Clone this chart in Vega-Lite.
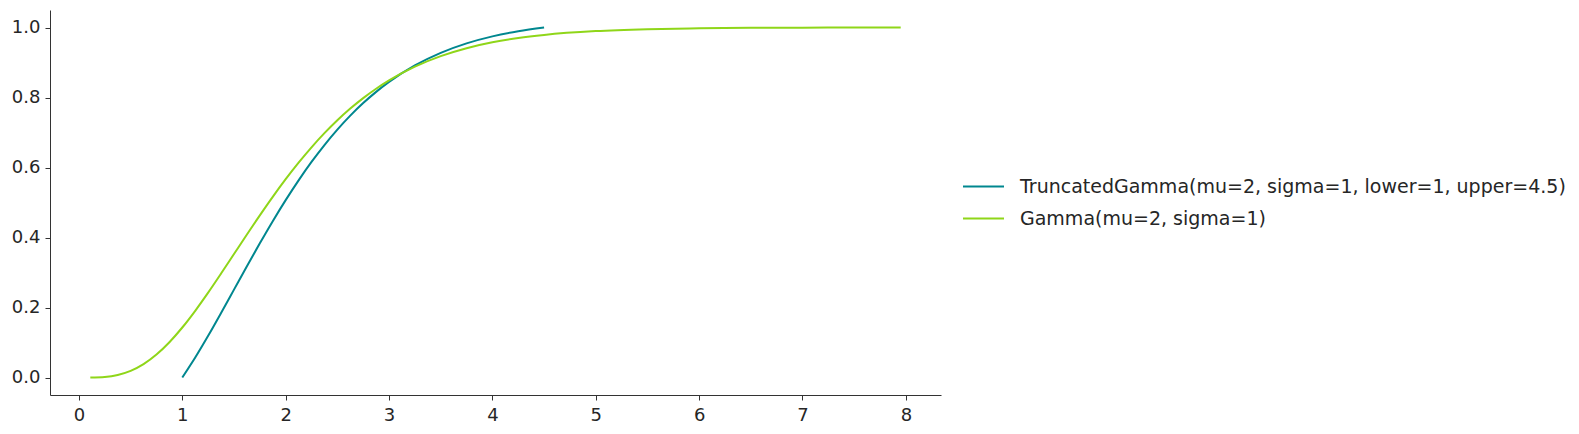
{
  "$schema": "https://vega.github.io/schema/vega-lite/v6.json",
  "width": 891,
  "height": 385,
  "autosize": {"type": "none"},
  "padding": {"left": 50, "top": 10, "right": 638, "bottom": 39},
  "background": "white",
  "config": {
    "font": "DejaVu Sans",
    "view": {"stroke": null},
    "axis": {
      "grid": false,
      "domainColor": "#333333",
      "domainWidth": 1,
      "tickColor": "#333333",
      "tickSize": 5,
      "tickWidth": 1,
      "labelColor": "#262626",
      "labelFontSize": 18,
      "labelFont": "DejaVu Sans",
      "title": null
    }
  },
  "data": {
    "values": [
      {"dist": "TruncatedGamma(mu=2, sigma=1, lower=1, upper=4.5)", "x": 1.0, "y": 0.0},
      {"dist": "TruncatedGamma(mu=2, sigma=1, lower=1, upper=4.5)", "x": 1.125, "y": 0.05705},
      {"dist": "TruncatedGamma(mu=2, sigma=1, lower=1, upper=4.5)", "x": 1.25, "y": 0.11909},
      {"dist": "TruncatedGamma(mu=2, sigma=1, lower=1, upper=4.5)", "x": 1.375, "y": 0.18433},
      {"dist": "TruncatedGamma(mu=2, sigma=1, lower=1, upper=4.5)", "x": 1.5, "y": 0.2511},
      {"dist": "TruncatedGamma(mu=2, sigma=1, lower=1, upper=4.5)", "x": 1.625, "y": 0.31788},
      {"dist": "TruncatedGamma(mu=2, sigma=1, lower=1, upper=4.5)", "x": 1.75, "y": 0.38341},
      {"dist": "TruncatedGamma(mu=2, sigma=1, lower=1, upper=4.5)", "x": 1.875, "y": 0.44666},
      {"dist": "TruncatedGamma(mu=2, sigma=1, lower=1, upper=4.5)", "x": 2.0, "y": 0.50683},
      {"dist": "TruncatedGamma(mu=2, sigma=1, lower=1, upper=4.5)", "x": 2.125, "y": 0.56336},
      {"dist": "TruncatedGamma(mu=2, sigma=1, lower=1, upper=4.5)", "x": 2.25, "y": 0.6159},
      {"dist": "TruncatedGamma(mu=2, sigma=1, lower=1, upper=4.5)", "x": 2.375, "y": 0.66424},
      {"dist": "TruncatedGamma(mu=2, sigma=1, lower=1, upper=4.5)", "x": 2.5, "y": 0.70834},
      {"dist": "TruncatedGamma(mu=2, sigma=1, lower=1, upper=4.5)", "x": 2.625, "y": 0.74824},
      {"dist": "TruncatedGamma(mu=2, sigma=1, lower=1, upper=4.5)", "x": 2.75, "y": 0.7841},
      {"dist": "TruncatedGamma(mu=2, sigma=1, lower=1, upper=4.5)", "x": 2.875, "y": 0.8161},
      {"dist": "TruncatedGamma(mu=2, sigma=1, lower=1, upper=4.5)", "x": 3.0, "y": 0.84451},
      {"dist": "TruncatedGamma(mu=2, sigma=1, lower=1, upper=4.5)", "x": 3.25, "y": 0.89158},
      {"dist": "TruncatedGamma(mu=2, sigma=1, lower=1, upper=4.5)", "x": 3.5, "y": 0.92758},
      {"dist": "TruncatedGamma(mu=2, sigma=1, lower=1, upper=4.5)", "x": 3.75, "y": 0.95464},
      {"dist": "TruncatedGamma(mu=2, sigma=1, lower=1, upper=4.5)", "x": 4.0, "y": 0.97469},
      {"dist": "TruncatedGamma(mu=2, sigma=1, lower=1, upper=4.5)", "x": 4.25, "y": 0.98937},
      {"dist": "TruncatedGamma(mu=2, sigma=1, lower=1, upper=4.5)", "x": 4.5, "y": 1.0},
      {"dist": "Gamma(mu=2, sigma=1)", "x": 0.11, "y": 0.0001},
      {"dist": "Gamma(mu=2, sigma=1)", "x": 0.25, "y": 0.00175},
      {"dist": "Gamma(mu=2, sigma=1)", "x": 0.375, "y": 0.00729},
      {"dist": "Gamma(mu=2, sigma=1)", "x": 0.5, "y": 0.01899},
      {"dist": "Gamma(mu=2, sigma=1)", "x": 0.625, "y": 0.03827},
      {"dist": "Gamma(mu=2, sigma=1)", "x": 0.75, "y": 0.06564},
      {"dist": "Gamma(mu=2, sigma=1)", "x": 0.875, "y": 0.10081},
      {"dist": "Gamma(mu=2, sigma=1)", "x": 1.0, "y": 0.14288},
      {"dist": "Gamma(mu=2, sigma=1)", "x": 1.125, "y": 0.19057},
      {"dist": "Gamma(mu=2, sigma=1)", "x": 1.25, "y": 0.24242},
      {"dist": "Gamma(mu=2, sigma=1)", "x": 1.375, "y": 0.29696},
      {"dist": "Gamma(mu=2, sigma=1)", "x": 1.5, "y": 0.35277},
      {"dist": "Gamma(mu=2, sigma=1)", "x": 1.625, "y": 0.4086},
      {"dist": "Gamma(mu=2, sigma=1)", "x": 1.75, "y": 0.46337},
      {"dist": "Gamma(mu=2, sigma=1)", "x": 1.875, "y": 0.51623},
      {"dist": "Gamma(mu=2, sigma=1)", "x": 2.0, "y": 0.56653},
      {"dist": "Gamma(mu=2, sigma=1)", "x": 2.125, "y": 0.61379},
      {"dist": "Gamma(mu=2, sigma=1)", "x": 2.25, "y": 0.6577},
      {"dist": "Gamma(mu=2, sigma=1)", "x": 2.375, "y": 0.69811},
      {"dist": "Gamma(mu=2, sigma=1)", "x": 2.5, "y": 0.73497},
      {"dist": "Gamma(mu=2, sigma=1)", "x": 2.625, "y": 0.76833},
      {"dist": "Gamma(mu=2, sigma=1)", "x": 2.75, "y": 0.7983},
      {"dist": "Gamma(mu=2, sigma=1)", "x": 2.875, "y": 0.82505},
      {"dist": "Gamma(mu=2, sigma=1)", "x": 3.0, "y": 0.8488},
      {"dist": "Gamma(mu=2, sigma=1)", "x": 3.25, "y": 0.88815},
      {"dist": "Gamma(mu=2, sigma=1)", "x": 3.5, "y": 0.91824},
      {"dist": "Gamma(mu=2, sigma=1)", "x": 3.75, "y": 0.94085},
      {"dist": "Gamma(mu=2, sigma=1)", "x": 4.0, "y": 0.95762},
      {"dist": "Gamma(mu=2, sigma=1)", "x": 4.25, "y": 0.96989},
      {"dist": "Gamma(mu=2, sigma=1)", "x": 4.5, "y": 0.97877},
      {"dist": "Gamma(mu=2, sigma=1)", "x": 5.0, "y": 0.98966},
      {"dist": "Gamma(mu=2, sigma=1)", "x": 5.5, "y": 0.99508},
      {"dist": "Gamma(mu=2, sigma=1)", "x": 6.0, "y": 0.99771},
      {"dist": "Gamma(mu=2, sigma=1)", "x": 6.5, "y": 0.99895},
      {"dist": "Gamma(mu=2, sigma=1)", "x": 7.0, "y": 0.99953},
      {"dist": "Gamma(mu=2, sigma=1)", "x": 7.5, "y": 0.99979},
      {"dist": "Gamma(mu=2, sigma=1)", "x": 7.95, "y": 0.99991}
    ]
  },
  "mark": {"type": "line", "strokeWidth": 2, "interpolate": "monotone"},
  "encoding": {
    "x": {
      "field": "x",
      "type": "quantitative",
      "scale": {"domain": [-0.28, 8.34], "nice": false, "zero": false},
      "axis": {"values": [0, 1, 2, 3, 4, 5, 6, 7, 8], "format": "d", "labelPadding": 6}
    },
    "y": {
      "field": "y",
      "type": "quantitative",
      "scale": {"domain": [-0.05, 1.05], "nice": false, "zero": false},
      "axis": {"values": [0, 0.2, 0.4, 0.6, 0.8, 1.0], "format": ".1f", "labelPadding": 5}
    },
    "color": {
      "field": "dist",
      "type": "nominal",
      "sort": null,
      "scale": {
        "domain": ["TruncatedGamma(mu=2, sigma=1, lower=1, upper=4.5)", "Gamma(mu=2, sigma=1)"],
        "range": ["#00878f", "#8fd619"]
      },
      "legend": {
        "title": null,
        "orient": "none",
        "legendX": 912,
        "legendY": 155,
        "padding": 0,
        "symbolType": "stroke",
        "symbolSize": 1681,
        "symbolStrokeWidth": 2,
        "labelFontSize": 19,
        "labelColor": "#262626",
        "labelFont": "DejaVu Sans",
        "labelOffset": 15,
        "labelLimit": 700,
        "rowPadding": -12
      }
    }
  }
}
